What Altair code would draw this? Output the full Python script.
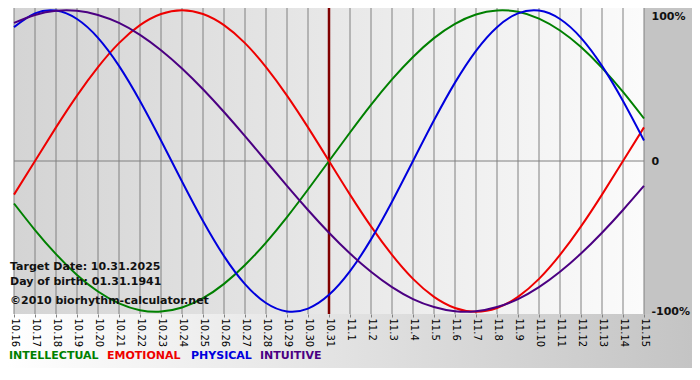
import json
import altair as alt
import pandas as pd

# ---- data ----
days = ["10.16", "10.17", "10.18", "10.19", "10.20", "10.21", "10.22", "10.23", "10.24",
        "10.25", "10.26", "10.27", "10.28", "10.29", "10.30", "10.31", "11.1", "11.2",
        "11.3", "11.4", "11.5", "11.6", "11.7", "11.8", "11.9", "11.10", "11.11", "11.12",
        "11.13", "11.14", "11.15"]

intellectual = [-0.282, -0.458, -0.618, -0.756, -0.866, -0.945, -0.990, -0.999, -0.972, -0.910,
                -0.815, -0.690, -0.541, -0.372, -0.189, 0.000, 0.189, 0.372, 0.541, 0.690, 0.815,
                0.910, 0.972, 0.999, 0.990, 0.945, 0.866, 0.756, 0.618, 0.458, 0.282]
emotional = [-0.223, 0.000, 0.223, 0.434, 0.623, 0.782, 0.901, 0.975, 1.000, 0.975, 0.901,
             0.782, 0.623, 0.434, 0.223, 0.000, -0.223, -0.434, -0.623, -0.782, -0.901, -0.975,
             -1.000, -0.975, -0.901, -0.782, -0.623, -0.434, -0.223, 0.000, 0.223]
physical = [0.888, 0.979, 0.998, 0.942, 0.817, 0.631, 0.398, 0.136, -0.136, -0.398, -0.631,
            -0.817, -0.942, -0.998, -0.979, -0.888, -0.731, -0.520, -0.270, 0.000, 0.270, 0.520,
            0.731, 0.888, 0.979, 0.998, 0.942, 0.817, 0.631, 0.398, 0.136]
intuitive = [0.916, 0.969, 0.997, 0.997, 0.969, 0.916, 0.837, 0.735, 0.614, 0.476, 0.325, 0.165,
             0.000, -0.165, -0.325, -0.476, -0.614, -0.735, -0.837, -0.916, -0.969, -0.997,
             -0.997, -0.969, -0.916, -0.837, -0.735, -0.614, -0.476, -0.325, -0.165]

series_names = ["INTELLECTUAL", "EMOTIONAL", "PHYSICAL", "INTUITIVE"]
series_colors = ["#008000", "#ee0000", "#0000dd", "#4b0082"]
series_values = [intellectual, emotional, physical, intuitive]

target_day = "10.31"
info_lines = ["Target Date: 10.31.2025", "Day of birth: 01.31.1941", "\u00a92010 biorhythm-calculator.net"]
y_ticks = [1, 0, -1]
y_tick_labels = ["100%", "0", "-100%"]

# ---- layout ----
LP = 6
W, H = 630, 306
RB, BB = 48, 58
FONT = "DejaVu Sans"

rows = []
for name, vals in zip(series_names, series_values):
    for i, v in enumerate(vals):
        rows.append({"t": i, "v": v, "series": name})
df = pd.DataFrame(rows)
grid_df = pd.DataFrame({"t": list(range(len(days)))})
target_df = pd.DataFrame({"t": [days.index(target_day)]})
zero_df = pd.DataFrame({"v": [0]})
one = pd.DataFrame({"a": [0]})

x_scale = alt.Scale(domain=[0, len(days) - 1], nice=False, zero=False)
y_scale = alt.Scale(domain=[-1.015, 1.015], nice=False, zero=False)

x_axis = alt.Axis(values=list(range(len(days))),
                  labelExpr=json.dumps(days) + "[datum.value]",
                  labelAngle=90, labelFont=FONT, labelFontSize=10, labelColor="#000",
                  labelPadding=1, labelFlush=False, labelOverlap=False, labelBound=False,
                  ticks=True, tickSize=3, tickColor="#808080", domain=False, grid=False,
                  title=None, zindex=1)
y_axis = alt.Axis(orient="right", values=y_ticks,
                  labelExpr=json.dumps(y_tick_labels) + "[indexof(" + json.dumps(y_ticks) + ", datum.value)]",
                  labelFont=FONT, labelFontSize=11, labelFontWeight="bold", labelColor="#111",
                  labelPadding=7, labelFlush=False, labelOverlap=False, labelAlign="left",
                  labelBaseline={"condition": {"test": "datum.value >= 1", "value": "top"}, "value": "middle"},
                  ticks=False, domain=False, grid=False, title=None, zindex=1)

X = alt.X("t:Q", scale=x_scale, axis=x_axis)
Y = alt.Y("v:Q", scale=y_scale, axis=y_axis)

frame_grad = alt.Gradient(gradient="linear",
                          stops=[alt.GradientStop(color="#ffffff", offset=0),
                                 alt.GradientStop(color="#c4c4c4", offset=1)],
                          x1=0, x2=1, y1=0, y2=0)
plot_grad = alt.Gradient(gradient="linear",
                         stops=[alt.GradientStop(color="#d4d4d4", offset=0),
                                alt.GradientStop(color="#fbfbfb", offset=1)],
                         x1=0, x2=1, y1=0, y2=0)

bottom_band = alt.Chart(one).mark_rect(fill=frame_grad).encode(
    x=alt.value(-LP), x2=alt.value(W + RB), y=alt.value(H), y2=alt.value(H + 54))
right_band = alt.Chart(one).mark_rect(fill="#c4c4c4").encode(
    x=alt.value(W), x2=alt.value(W + RB), y=alt.value(0), y2=alt.value(H))
plot_bg = alt.Chart(one).mark_rect(fill=plot_grad).encode(
    x=alt.value(0), x2=alt.value(W), y=alt.value(0), y2=alt.value(H))

grid = alt.Chart(grid_df).mark_rule(color="#808080", strokeWidth=1).encode(x=X)
zero = alt.Chart(zero_df).mark_rule(color="#808080", strokeWidth=1).encode(y=Y)
target = alt.Chart(target_df).mark_rule(color="#800000", strokeWidth=2.5).encode(x=X)

lines = alt.Chart(df).mark_line(strokeWidth=2, interpolate="natural").encode(
    x=X, y=Y,
    color=alt.Color("series:N", scale=alt.Scale(domain=series_names, range=series_colors), legend=None),
)

info_y = [259, 274, 293]
info = [alt.Chart(one).mark_text(text=t, align="left", baseline="middle", font=FONT,
                                 fontSize=11, fontWeight="bold", color="#111").encode(
            x=alt.value(-4), y=alt.value(yy)) for t, yy in zip(info_lines, info_y)]

legend_x = [-5, 93, 177, 246]
legend = [alt.Chart(one).mark_text(text=n, align="left", baseline="middle", font=FONT,
                                   fontSize=11, fontWeight="bold", color=c).encode(
              x=alt.value(lx), y=alt.value(H + 42))
          for n, c, lx in zip(series_names, series_colors, legend_x)]

chart = alt.layer(bottom_band, right_band, plot_bg, grid, zero, target, lines, *info, *legend).properties(
    width=W, height=H,
    autosize=alt.AutoSizeParams(type="none"),
    padding={"left": LP, "top": 0, "right": RB, "bottom": BB},
    background="white",
).configure_view(stroke=None)

chart.save("out.html", embed_options={"renderer": "svg", "actions": False})
